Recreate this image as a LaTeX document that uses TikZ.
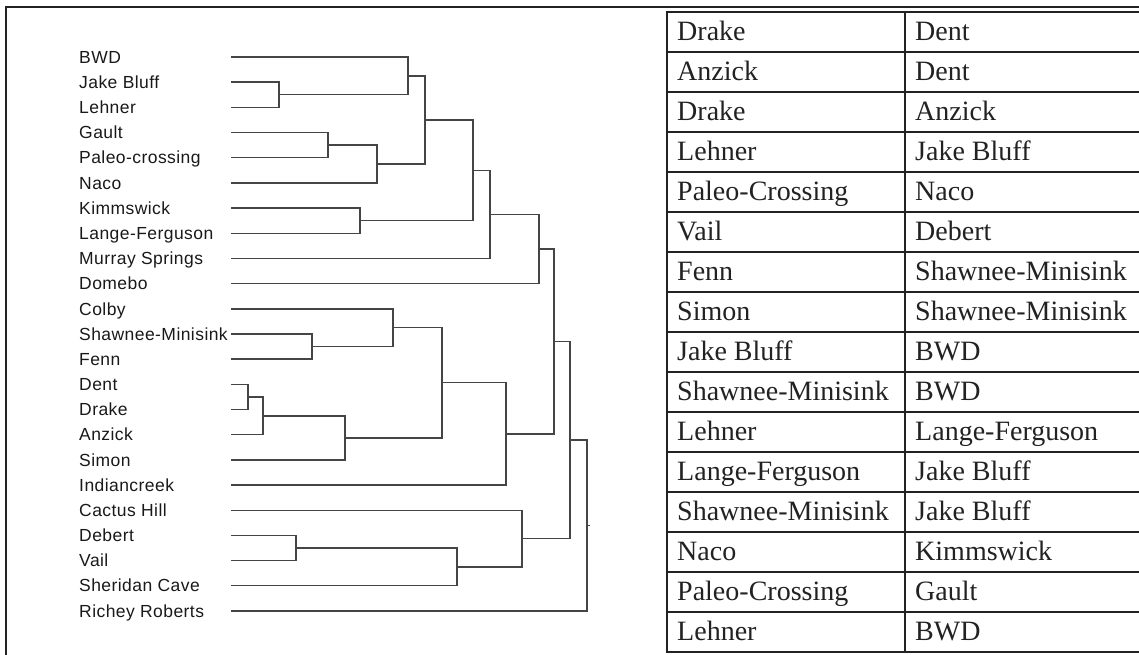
\documentclass[tikz,border=0pt]{standalone}
\usepackage{fontspec}
\setmainfont{Liberation Serif}
\newfontfamily\dfont[LetterSpace=2.5]{Liberation Sans}
\usetikzlibrary{calc}
\definecolor{dline}{HTML}{454545}
\definecolor{tline}{HTML}{222222}
\newcommand\mrg[4]{%
  \path let \p1=(#3), \p2=(#4) in (#2pt,{0.5*\y1+0.5*\y2}) coordinate (#1);
  \draw[dend] (#3) -- (#3 -| #1) -- (#4 -| #1) -- (#4);}
\begin{document}
\begin{tikzpicture}[x=1pt,y=-1pt,
  leaf/.style={font=\dfont\fontsize{17.5}{19}\selectfont, anchor=base west, inner sep=0pt, text=black!90},
  cell/.style={font=\fontsize{28}{32}\selectfont, anchor=base west, inner sep=0pt, text=tline},
  dend/.style={draw=dline, line width=1.4pt},
  frame/.style={draw=tline, line width=2pt},
  rowline/.style={draw=tline, line width=2.1pt},
  colline/.style={draw=tline, line width=2.6pt}]
\useasboundingbox (0,0) rectangle (1139,654);
% outer frame
\draw[frame] (1140,7) -- (6,7) -- (6,656);
% dendrogram leaves
\foreach \n [count=\i] in {BWD,Jake Bluff,Lehner,Gault,Paleo-crossing,Naco,Kimmswick,Lange-Ferguson,Murray Springs,Domebo,Colby,Shawnee-Minisink,Fenn,Dent,Drake,Anzick,Simon,Indiancreek,Cactus Hill,Debert,Vail,Sheridan Cave,Richey Roberts}{
  \pgfmathsetmacro\yy{57+25.18*(\i-1)}
  \node[leaf] (n\i) at (79,\yy+6.2) {\n};
  \coordinate (p\i) at (231,\yy);
}
% merges
\mrg{m1}{279}{p2}{p3}
\mrg{m2}{408}{p1}{m1}
\mrg{m3}{328}{p4}{p5}
\mrg{m4}{377}{m3}{p6}
\mrg{m5}{425}{m2}{m4}
\mrg{m6}{360}{p7}{p8}
\mrg{m7}{473}{m5}{m6}
\mrg{m8}{490}{m7}{p9}
\mrg{m9}{539}{m8}{p10}
\mrg{m10}{312}{p12}{p13}
\mrg{m11}{393}{p11}{m10}
\mrg{m12}{248}{p14}{p15}
\mrg{m13}{263}{m12}{p16}
\mrg{m14}{345}{m13}{p17}
\mrg{m15}{442}{m11}{m14}
\mrg{m16}{506}{m15}{p18}
\mrg{m17}{554}{m9}{m16}
\mrg{m18}{296}{p20}{p21}
\mrg{m19}{457}{m18}{p22}
\mrg{m20}{522}{p19}{m19}
\mrg{m21}{570}{m17}{m20}
\mrg{m22}{587}{m21}{p23}
\coordinate (root) at ($(m22)+(2.5,0)$);
\draw[dend] (m22) -- (root);
% table grid
\foreach \k in {0,...,16}{
  \draw[rowline] (665.7,12+40*\k) -- (1141,12+40*\k);
}
\draw[colline] (667,11) -- (667,653);
\draw[colline] (905,11) -- (905,653);
% table cells
\foreach \a/\b [count=\r] in {Drake/Dent,Anzick/Dent,Drake/Anzick,Lehner/Jake Bluff,Paleo-Crossing/Naco,Vail/Debert,Fenn/Shawnee-Minisink,Simon/Shawnee-Minisink,Jake Bluff/BWD,Shawnee-Minisink/BWD,Lehner/Lange-Ferguson,Lange-Ferguson/Jake Bluff,Shawnee-Minisink/Jake Bluff,Naco/Kimmswick,Paleo-Crossing/Gault,Lehner/BWD}{
  \node[cell] (a\r) at (677,12+40*\r-40+28) {\a};
  \node[cell] (b\r) at (915,12+40*\r-40+28) {\b};
}
\end{tikzpicture}
\end{document}
